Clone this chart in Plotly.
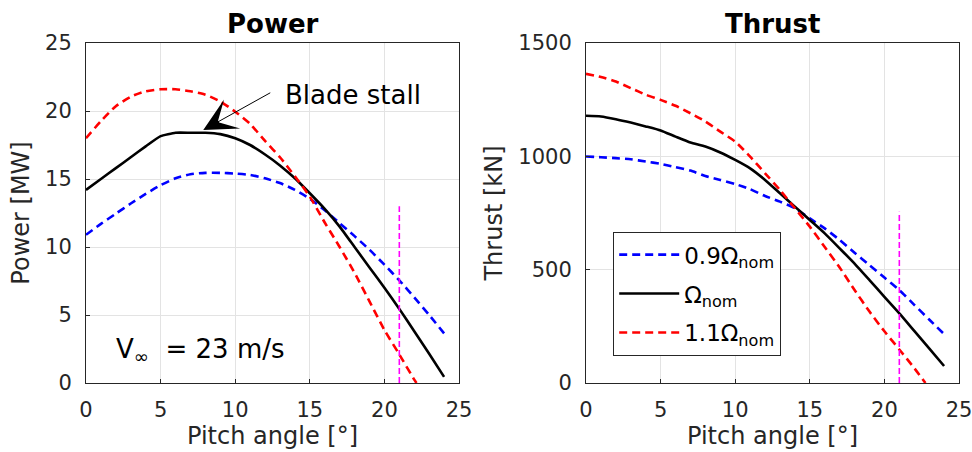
import plotly.graph_objects as go

# ---------------- data ----------------
pitch = list(range(0, 25))

power_nom = [14.2, 15.0, 15.8, 16.6, 17.4, 18.15, 18.4, 18.4, 18.4, 18.3, 18.0, 17.5, 16.8,
             16.0, 15.05, 13.95, 12.8, 11.5, 10.0, 8.5, 7.0, 5.45, 3.8, 2.15, 0.45]
power_09 = [10.9, 11.7, 12.45, 13.2, 13.9, 14.55, 15.05, 15.35, 15.45, 15.45, 15.4, 15.3, 15.05,
            14.7, 14.2, 13.55, 12.7, 11.75, 10.8, 9.8, 8.7, 7.55, 6.3, 5.0, 3.65]
pitch_11_p = [0, 1, 2, 3, 4, 5, 6, 7, 8, 9, 10, 11, 12, 13, 14, 15, 16, 17, 18, 19, 20, 21, 22, 22.15]
power_11 = [18.0, 19.25, 20.35, 21.05, 21.45, 21.6, 21.6, 21.45, 21.2, 20.7, 19.95, 19.05, 17.8,
            16.6, 15.2, 13.7, 11.8, 10.0, 8.1, 6.0, 3.9, 2.1, 0.25, 0.0]

thrust_nom = [1179, 1176, 1164, 1149, 1132, 1114, 1087, 1061, 1043, 1017, 984, 947, 896,
              837, 778, 719, 660, 594, 527, 454, 380, 307, 230, 153, 75]
thrust_09 = [999, 996, 992, 987, 977, 967, 952, 937, 913, 896, 878, 855, 825,
             800, 771, 726, 682, 631, 575, 520, 465, 410, 345, 280, 216]
pitch_11_t = [0, 1, 2, 3, 4, 5, 6, 7, 8, 9, 10, 11, 12, 13, 14, 15, 16, 17, 18, 19, 20, 21, 22, 22.75]
thrust_11 = [1364, 1350, 1330, 1301, 1272, 1249, 1223, 1190, 1154, 1109, 1065, 999, 925,
             852, 771, 690, 600, 510, 410, 315, 228, 148, 66, 0]

marker_pitch = 21
marker_power_top = 13.0
marker_thrust_top = 756

series_names = ["0.9Ω<sub>nom</sub>", "Ω<sub>nom</sub>", "1.1Ω<sub>nom</sub>"]

xticks = [0, 5, 10, 15, 20, 25]
power_ticks = [0, 5, 10, 15, 20, 25]
thrust_ticks = [0, 500, 1000, 1500]

# ---------------- figure ----------------
FONT = "DejaVu Sans"
W, H = 972, 452
BLUE, RED, BLACK, MAG = "#0000ff", "#ff0000", "#000000", "#ff00ff"
DASH = "8px,5px"
LW = 2.6

fig = go.Figure()

# Left: power
fig.add_trace(go.Scatter(x=pitch, y=power_09, mode="lines",
                         line=dict(color=BLUE, width=LW, dash=DASH, shape="spline", smoothing=0.6),
                         name=series_names[0], showlegend=False, xaxis="x", yaxis="y"))
fig.add_trace(go.Scatter(x=pitch, y=power_nom, mode="lines",
                         line=dict(color=BLACK, width=LW, shape="spline", smoothing=0.4),
                         name=series_names[1], showlegend=False, xaxis="x", yaxis="y"))
fig.add_trace(go.Scatter(x=pitch_11_p, y=power_11, mode="lines",
                         line=dict(color=RED, width=LW, dash=DASH, shape="spline", smoothing=0.6),
                         name=series_names[2], showlegend=False, xaxis="x", yaxis="y"))
fig.add_trace(go.Scatter(x=[marker_pitch, marker_pitch], y=[0, marker_power_top], mode="lines",
                         line=dict(color=MAG, width=1.6, dash="6px,3px"), showlegend=False,
                         xaxis="x", yaxis="y", hoverinfo="skip"))

# Right: thrust
for i, (yy, xx, col, dash) in enumerate([(thrust_09, pitch, BLUE, DASH), (thrust_nom, pitch, BLACK, "solid"),
                                         (thrust_11, pitch_11_t, RED, DASH)]):
    fig.add_trace(go.Scatter(x=xx, y=yy, mode="lines",
                             line=dict(color=col, width=LW, dash=dash, shape="spline", smoothing=0.5),
                             name=series_names[i], legendgroup=f"g{i}", xaxis="x2", yaxis="y2"))
fig.add_trace(go.Scatter(x=[marker_pitch, marker_pitch], y=[0, marker_thrust_top], mode="lines",
                         line=dict(color=MAG, width=1.6, dash="6px,3px"), showlegend=False,
                         xaxis="x2", yaxis="y2", hoverinfo="skip"))

axcol = "#262626"
gridcol = "#e3e3e3"
tickfont = dict(family=FONT, size=21, color=axcol)
titlefont = dict(family=FONT, size=24, color=axcol)

def xa(domain, anchor):
    return dict(domain=domain, anchor=anchor, range=[0, 25], tickvals=xticks, showline=True,
                linecolor=axcol, linewidth=1, mirror=True, showgrid=True, gridcolor=gridcol,
                zeroline=False, ticks="inside", ticklen=4, tickcolor=axcol, tickfont=tickfont,
                ticklabelstandoff=8, automargin=False, ticklabeloverflow="allow",
                title=dict(text="Pitch angle [°]", font=titlefont, standoff=4))

def ya(domain, anchor, rng, tv, title):
    return dict(domain=domain, anchor=anchor, range=rng, tickvals=tv, showline=True,
                linecolor=axcol, linewidth=1, mirror=True, showgrid=True, gridcolor=gridcol,
                zeroline=False, ticks="inside", ticklen=4, tickcolor=axcol, tickfont=tickfont,
                ticklabelstandoff=9, automargin=False, ticklabeloverflow="allow",
                title=dict(text=title, font=titlefont, standoff=8))

ydom = [1 - 383 / H, 1 - 43 / H]
fig.update_layout(
    width=W, height=H,
    margin=dict(l=0, r=0, t=0, b=0),
    paper_bgcolor="white", plot_bgcolor="white",
    font=dict(family=FONT, color=axcol),
    xaxis=xa([86 / W, 459 / W], "y"),
    yaxis=ya(ydom, "x", [0, 25], power_ticks, "Power [MW]"),
    xaxis2=xa([586 / W, 959 / W], "y2"),
    yaxis2=ya(ydom, "x2", [0, 1500], thrust_ticks, "Thrust [kN]"),
    showlegend=True,
    legend=dict(x=613 / W, y=1 - 232 / H, xanchor="left", yanchor="top",
                bgcolor="white", bordercolor=axcol, borderwidth=1.2,
                font=dict(family=FONT, size=23, color="#000000"), itemwidth=60,
                tracegroupgap=6),
    annotations=[
        dict(text="<b>Power</b>", x=272.5 / W, y=1 - 24 / H, xref="paper", yref="paper",
             showarrow=False, font=dict(family=FONT, size=26, color="#000000"),
             xanchor="center", yanchor="middle"),
        dict(text="<b>Thrust</b>", x=772.5 / W, y=1 - 24 / H, xref="paper", yref="paper",
             showarrow=False, font=dict(family=FONT, size=26, color="#000000"),
             xanchor="center", yanchor="middle"),
        dict(text="", x=7.86, y=18.6, xref="x", yref="y", ax=12.45, ay=21.4,
             axref="x", ayref="y", showarrow=True, arrowhead=3, arrowsize=5.5, arrowwidth=1,
             arrowcolor="#000000", standoff=0, startstandoff=0),
        dict(text="Blade stall", x=283 / W, y=1 - 95 / H, xref="paper", yref="paper",
             showarrow=False, font=dict(family=FONT, size=26, color="#000000"),
             xanchor="left", yanchor="middle"),
        dict(text="V<sub>∞</sub>&nbsp; = 23 m/s",
             x=114 / W, y=1 - 350 / H, xref="paper", yref="paper",
             showarrow=False, font=dict(family=FONT, size=26, color="#000000"),
             xanchor="left", yanchor="middle"),
    ],
)

fig.write_html("out.html")
